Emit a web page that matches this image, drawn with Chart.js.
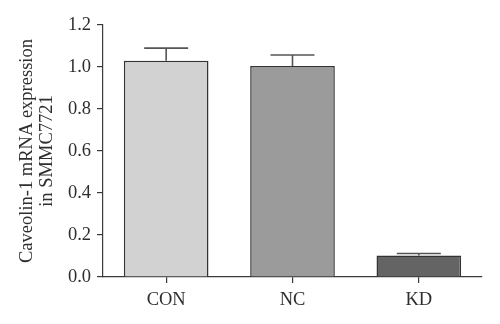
<!DOCTYPE html>
<html>
<head>
<meta charset="utf-8">
<script src="https://cdn.jsdelivr.net/npm/chart.js@4"></script>
<style>
  html, body { margin: 0; padding: 0; background: #fff; }
</style>
</head>
<body>
<canvas id="expr" width="500" height="324"></canvas>
<script>
// relative Caveolin-1 mRNA levels, mean and SD
const groups = ['CON', 'NC', 'KD'];
const means = [1.03, 1.005, 0.102];
const errs = [0.06, 0.052, 0.01];
const fills = ['#d2d2d2', '#9b9b9b', '#646464'];
const yTicks = [0, 0.2, 0.4, 0.6, 0.8, 1.0, 1.2];

const serif = "'Liberation Serif', 'Times New Roman', serif";
const ink = '#3a3a3a';

// upward-only error bars with a cap
const errorBars = {
    id: 'errorBars',
    afterDatasetsDraw(chart) {
        const ctx = chart.ctx;
        const meta = chart.getDatasetMeta(0);
        const y = chart.scales.y;
        ctx.save();
        ctx.strokeStyle = '#555';
        ctx.lineWidth = 1.6;
        meta.data.forEach((bar, i) => {
            const yTop = y.getPixelForValue(means[i] + errs[i]);
            const yMean = y.getPixelForValue(means[i]);
            const half = bar.width * 0.26;
            ctx.beginPath();
            ctx.moveTo(bar.x, yMean);
            ctx.lineTo(bar.x, yTop);
            ctx.moveTo(bar.x - half, yTop);
            ctx.lineTo(bar.x + half, yTop);
            ctx.stroke();
        });
        ctx.restore();
    }
};

new Chart(document.getElementById('expr'), {
    type: 'bar',
    data: {
        labels: groups,
        datasets: [{
            data: means,
            backgroundColor: fills,
            borderColor: '#333',
            borderWidth: 1.5,
            barPercentage: 0.67,
            categoryPercentage: 1.0
        }]
    },
    options: {
        responsive: false,
        animation: false,
        devicePixelRatio: 1,
        layout: { padding: { left: 17, right: 18, top: 25, bottom: 0 } },
        plugins: { legend: { display: false }, tooltip: { enabled: false } },
        scales: {
            x: {
                grid: { drawOnChartArea: false, offset: false, tickLength: 6, color: ink, lineWidth: 1.2 },
                border: { display: true, color: ink, width: 1.2 },
                ticks: { color: '#2e2e2e', font: { family: serif, size: 18.5 }, padding: 6 },
                afterFit(s) { s.height = 47; }
            },
            y: {
                min: 0,
                max: 1.2,
                afterBuildTicks(s) { s.ticks = yTicks.map(v => ({ value: v })); },
                grid: { drawOnChartArea: false, tickLength: 6, color: ink, lineWidth: 1.2 },
                border: { display: true, color: ink, width: 1.2 },
                ticks: {
                    color: '#2e2e2e',
                    font: { family: serif, size: 18.5 },
                    padding: 6,
                    autoSkip: false,
                    callback: v => v.toFixed(1)
                },
                title: {
                    display: true,
                    text: ['Caveolin-1 mRNA expression', 'in SMMC7721'],
                    color: '#2e2e2e',
                    font: { family: serif, size: 18.5, lineHeight: 1.1 },
                    padding: { top: 0, bottom: 6 }
                },
                afterFit(s) { s.width = 86; }
            }
        }
    },
    plugins: [errorBars]
});
</script>
</body>
</html>
